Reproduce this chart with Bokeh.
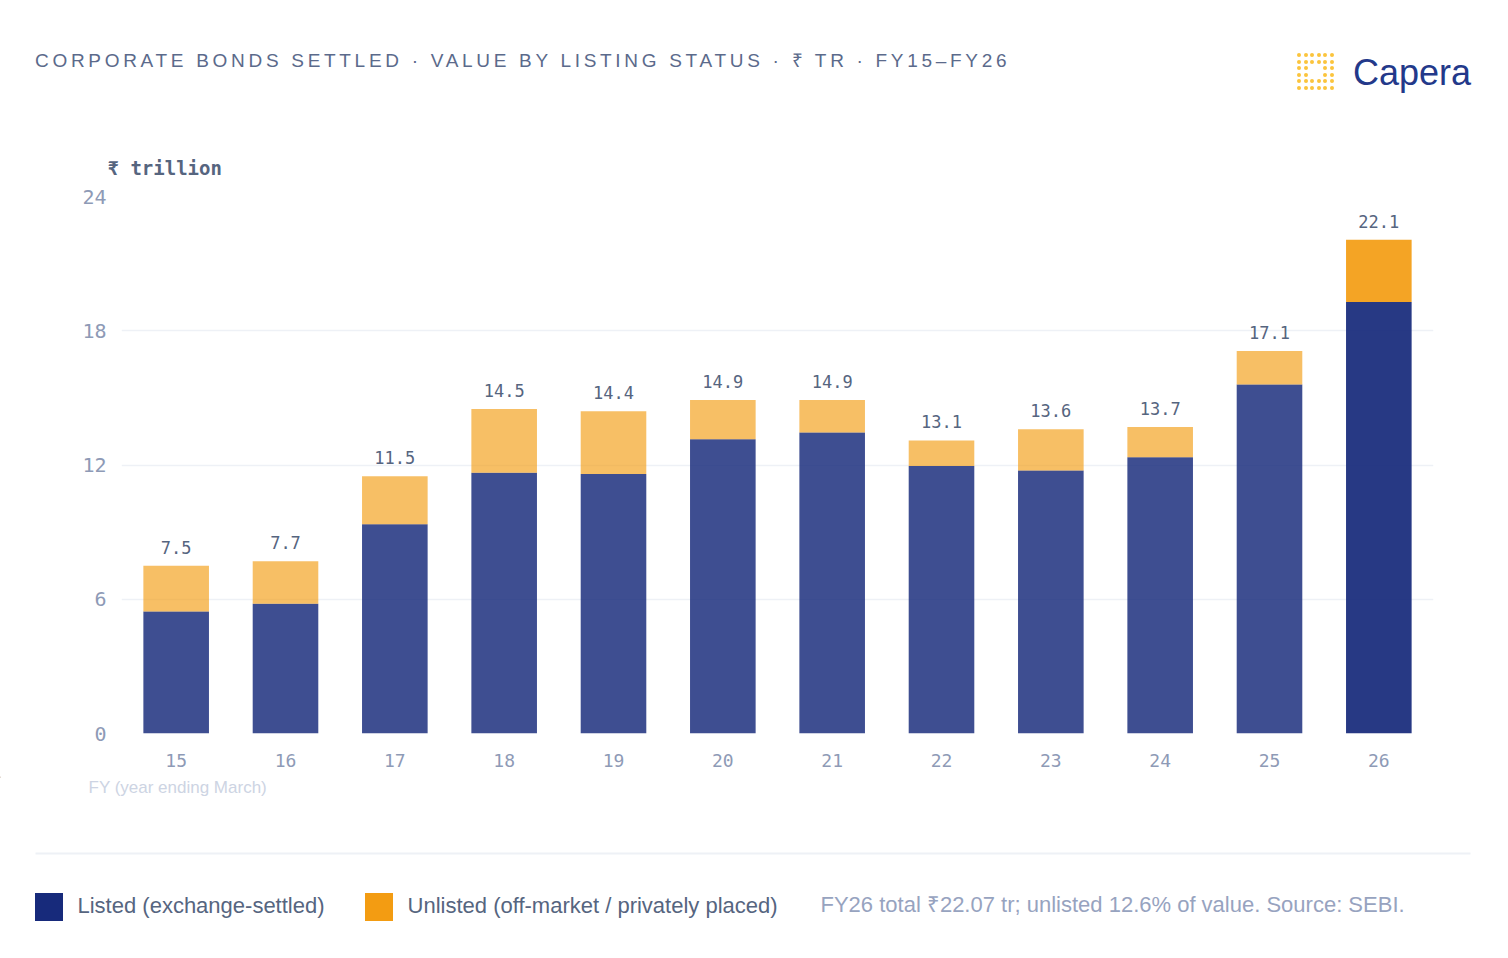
from bokeh.plotting import figure
from bokeh.models import (ColumnDataSource, Label, LabelSet, Legend, LegendItem, Div,
                          FactorRange, Range1d, FixedTicker, Title)
from bokeh.layouts import column
from bokeh.embed import file_html
from bokeh.resources import INLINE
from bokeh.core.properties import value

# ---- data ----
years = ["15", "16", "17", "18", "19", "20", "21", "22", "23", "24", "25", "26"]
totals = [7.5, 7.7, 11.5, 14.5, 14.4, 14.9, 14.9, 13.1, 13.6, 13.7, 17.1, 22.07]
listed = [5.45, 5.8, 9.35, 11.65, 11.6, 13.15, 13.45, 11.95, 11.75, 12.35, 15.6, 19.29]
y_ticks = [0, 6, 12, 18, 24]

title_text = "CORPORATE BONDS SETTLED · VALUE BY LISTING STATUS · ₹ TR · FY15–FY26"
y_label = "₹ trillion"
x_label = "FY (year ending March)"
legend_labels = ["Listed (exchange-settled)", "Unlisted (off-market / privately placed)"]
note_text = "FY26 total ₹22.07 tr; unlisted 12.6% of value. Source: SEBI."

# ---- styling ----
NAVY = "#172a7b"
ORANGE = "#f39c12"
TXT = "#56657f"
TICK = "#8e9ab6"
MONO = "DejaVu Sans Mono"
SANS = "Liberation Sans"

W = 1492
HEAD_H = 130          # header div height (page y 0..130)
FRAME_L, FRAME_R, FRAME_T, FRAME_B = 121, 1433, 196, 733
MAIN_BOTTOM = 776
FOOT_H = 958 - 4 - MAIN_BOTTOM

unlisted = [t - l for t, l in zip(totals, listed)]
src = ColumnDataSource(dict(
    fy=years, listed=listed, total=totals, unlisted=unlisted,
    label=[f"{t:.1f}" for t in totals],
    a_l=[0.83] * (len(years) - 1) + [0.93],
    a_u=[0.65] * (len(years) - 1) + [0.92],
))

# ---- main chart ----
p = figure(x_range=FactorRange(*years), y_range=Range1d(0, 24),
           width=W, height=MAIN_BOTTOM - HEAD_H, output_backend="svg", toolbar_location=None,
           min_border_left=FRAME_L, min_border_right=W - FRAME_R,
           min_border_top=FRAME_T - HEAD_H, min_border_bottom=MAIN_BOTTOM - FRAME_B)
p.outline_line_color = None
p.background_fill_color = "white"
p.border_fill_color = "white"

p.vbar(x="fy", bottom=0, top="listed", width=0.6, source=src,
       fill_color=NAVY, fill_alpha="a_l", line_color=None)
p.vbar(x="fy", bottom="listed", top="total", width=0.6, source=src,
       fill_color=ORANGE, fill_alpha="a_u", line_color=None)

p.add_layout(LabelSet(x="fy", y="total", text="label", source=src,
                      text_align="center", text_baseline="alphabetic", y_offset=12,
                      text_font=value(MONO), text_font_size="17px", text_color=TXT))

p.title = Title(text=y_label, align="left", offset=-14, standoff=35,
                text_font=MONO, text_font_size="19px", text_font_style="bold",
                text_color=TXT)

p.xgrid.grid_line_color = None
p.ygrid.grid_line_color = "#eef1f6"
p.ygrid.grid_line_width = 1.5
p.yaxis.ticker = FixedTicker(ticks=y_ticks)
for ax in (p.xaxis[0], p.yaxis[0]):
    ax.axis_line_color = None
    ax.major_tick_line_color = None
    ax.minor_tick_line_color = None
    ax.major_label_text_font = MONO
    ax.major_label_text_color = TICK
p.yaxis.major_label_text_font_size = "20px"
p.yaxis.major_label_standoff = 9
p.xaxis.major_label_text_font_size = "18px"
p.xaxis.major_label_standoff = 14

# ---- footer: axis note, separator, legend, source note ----
f = figure(x_range=Range1d(0, W), y_range=Range1d(FOOT_H, 0), width=W, height=FOOT_H,
           output_backend="svg", toolbar_location=None,
           min_border_left=0, min_border_right=0, min_border_top=0, min_border_bottom=0)
if "frame_align" in f.properties():
    f.frame_align = False
if "frame_align" in p.properties():
    p.frame_align = False
f.axis.visible = False
f.grid.visible = False
f.outline_line_color = None
f.background_fill_color = "white"
f.border_fill_color = "white"

def fy_(page_y):
    return page_y - MAIN_BOTTOM

f.add_layout(Label(x=88, y=fy_(787), text=x_label, text_font=SANS,
                   text_font_size="17px", text_color="#cdd4e3", text_baseline="alphabetic"))
f.segment(x0=[35], y0=[fy_(853)], x1=[1470], y1=[fy_(853)],
          line_color="#eef1f6", line_width=2)
f.add_layout(Label(x=820, y=fy_(904), text=note_text, text_font=SANS,
                   text_font_size="22px", text_color="#97a3bf", text_baseline="alphabetic"))

# legend swatches (renderers placed off-canvas; only their legend glyph shows)
d1 = f.vbar(x=[-1000], bottom=[0], top=[1], width=1, fill_color=NAVY, line_color=None)
d2 = f.vbar(x=[-1000], bottom=[0], top=[1], width=1, fill_color=ORANGE, line_color=None)
legend = Legend(items=[LegendItem(label=legend_labels[0], renderers=[d1]),
                       LegendItem(label=legend_labels[1], renderers=[d2])],
                location=(30.5, FOOT_H - fy_(923.5)), orientation="horizontal",
                glyph_width=35, glyph_height=35, label_height=35,
                label_text_font=SANS, label_text_font_size="22px", label_text_color=TXT,
                label_standoff=12, spacing=36, padding=0, margin=0,
                border_line_color=None, background_fill_alpha=0)
f.add_layout(legend)

# ---- header (title + logo) ----
dots = ""
for r in range(6):
    for c in range(6):
        if r in (2, 3) and c in (2, 3):
            continue
        dots += (f'<span style="position:absolute;left:{c*6.5}px;top:{r*6.5}px;width:4.4px;'
                 f'height:4.4px;border-radius:50%;background:#fbc43d;"></span>')
header_html = f'''
<div style="position:relative;width:{W}px;height:{HEAD_H}px;background:white;">
  <div style="position:absolute;left:35px;top:51px;font-family:'{SANS}',Arial,sans-serif;
       font-size:19px;line-height:20px;letter-spacing:3.7px;color:#5b6a8b;white-space:nowrap;">{title_text}</div>
  <div style="position:absolute;left:1297px;top:53px;width:40px;height:40px;">{dots}</div>
  <div style="position:absolute;left:1353px;top:53px;font-family:'{SANS}',Arial,sans-serif;
       font-size:36px;line-height:40px;color:#23398a;white-space:nowrap;">Capera</div>
</div>'''
header = Div(text=header_html, width=W, height=HEAD_H, margin=0)

layout = column(header, p, f, spacing=0)
open("out.html", "w").write(file_html(layout, INLINE))
